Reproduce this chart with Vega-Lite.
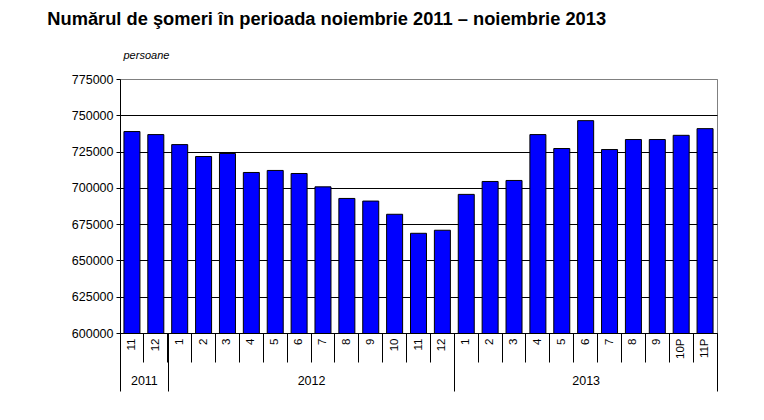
{
  "$schema": "https://vega.github.io/schema/vega-lite/v6.json",
  "autosize": {"type": "none"},
  "width": 597,
  "height": 254,
  "padding": {"left": 120, "top": 79, "right": 47, "bottom": 87},
  "background": "white",
  "title": {
    "text": "Numărul de şomeri în perioada noiembrie 2011 – noiembrie 2013",
    "anchor": "start",
    "dx": -24,
    "dy": -16,
    "fontSize": 18.3,
    "fontWeight": "bold",
    "font": "Liberation Sans",
    "color": "black"
  },
  "datasets": {
    "months": [
      {"key": "2011-11", "year": "2011", "v": 738800},
      {"key": "2011-12", "year": "2011", "v": 736700},
      {"key": "2012-1", "year": "2012", "v": 729800},
      {"key": "2012-2", "year": "2012", "v": 721600},
      {"key": "2012-3", "year": "2012", "v": 723700},
      {"key": "2012-4", "year": "2012", "v": 710600},
      {"key": "2012-5", "year": "2012", "v": 712000},
      {"key": "2012-6", "year": "2012", "v": 709900},
      {"key": "2012-7", "year": "2012", "v": 700700},
      {"key": "2012-8", "year": "2012", "v": 692700},
      {"key": "2012-9", "year": "2012", "v": 690900},
      {"key": "2012-10", "year": "2012", "v": 681800},
      {"key": "2012-11", "year": "2012", "v": 668700},
      {"key": "2012-12", "year": "2012", "v": 670800},
      {"key": "2013-1", "year": "2013", "v": 695500},
      {"key": "2013-2", "year": "2013", "v": 704400},
      {"key": "2013-3", "year": "2013", "v": 705100},
      {"key": "2013-4", "year": "2013", "v": 736700},
      {"key": "2013-5", "year": "2013", "v": 727100},
      {"key": "2013-6", "year": "2013", "v": 746300},
      {"key": "2013-7", "year": "2013", "v": 726400},
      {"key": "2013-8", "year": "2013", "v": 733300},
      {"key": "2013-9", "year": "2013", "v": 733300},
      {"key": "2013-10P", "year": "2013", "v": 736200},
      {"key": "2013-11P", "year": "2013", "v": 740800}
    ],
    "years": [
      {"year": "2011", "start": 0, "end": 2, "mid": 1},
      {"year": "2012", "start": 2, "end": 14, "mid": 8},
      {"year": "2013", "start": 14, "end": 25, "mid": 19.5}
    ]
  },
  "layer": [
    {
      "data": {"name": "months"},
      "mark": {"type": "bar", "fill": "#0000FF", "stroke": "black", "strokeWidth": 1, "width": {"band": 0.67}, "clip": true},
      "encoding": {
        "x": {
          "field": "key",
          "type": "ordinal",
          "sort": null,
          "scale": {"paddingInner": 0, "paddingOuter": 0},
          "axis": {
            "orient": "bottom",
            "title": null,
            "bandPosition": 0,
            "tickSize": 29,
            "tickColor": "black",
            "domainColor": "black",
            "labelAngle": -90,
            "labelAlign": "right",
            "labelBaseline": "middle",
            "labelPadding": -24,
            "labelFontSize": 11.5,
            "labelColor": "black",
            "labelFont": "Liberation Sans",
            "labelExpr": "split(datum.label, '-')[1]",
            "grid": false
          }
        },
        "y": {
          "field": "v",
          "type": "quantitative",
          "scale": {"domain": [600000, 775000], "nice": false, "zero": false},
          "axis": {
            "values": [600000, 625000, 650000, 675000, 700000, 725000, 750000, 775000],
            "format": "d",
            "title": "persoane",
            "titleAngle": 0,
            "titleX": 3,
            "titleY": -24,
            "titleAlign": "left",
            "titleBaseline": "middle",
            "titleFontStyle": "italic",
            "titleFontWeight": "normal",
            "titleFontSize": 11,
            "titleFont": "Liberation Sans",
            "titleColor": "black",
            "grid": true,
            "gridColor": {"condition": {"test": "datum.value == 775000", "value": "#808080"}, "value": "black"},
            "gridWidth": 1,
            "domainColor": "black",
            "tickColor": "black",
            "tickSize": 4,
            "labelPadding": 3,
            "labelFontSize": 12.5,
            "labelFont": "Liberation Sans",
            "labelColor": "black"
          }
        }
      }
    },
    {
      "data": {"name": "years"},
      "mark": {"type": "point", "opacity": 0},
      "encoding": {
        "x": {
          "field": "start",
          "type": "quantitative",
          "scale": {"domain": [0, 25], "nice": false, "zero": false},
          "axis": {
            "orient": "bottom",
            "title": null,
            "values": [0, 2, 14, 25],
            "labels": false,
            "domain": false,
            "grid": false,
            "tickSize": 58,
            "tickColor": "black"
          }
        }
      }
    },
    {
      "data": {"name": "years"},
      "mark": {"type": "point", "opacity": 0},
      "encoding": {
        "x": {
          "field": "mid",
          "type": "quantitative",
          "scale": {"domain": [0, 25], "nice": false, "zero": false},
          "axis": {
            "orient": "bottom",
            "title": null,
            "values": [1, 8, 19.5],
            "labelExpr": "datum.value < 2 ? '2011' : datum.value < 14 ? '2012' : '2013'",
            "ticks": false,
            "domain": false,
            "grid": false,
            "labelPadding": 41,
            "labelFontSize": 12.5,
            "labelFont": "Liberation Sans",
            "labelColor": "black"
          }
        }
      }
    }
  ],
  "resolve": {"scale": {"x": "independent"}},
  "config": {
    "font": "Liberation Sans",
    "view": {"stroke": "#808080", "strokeWidth": 1}
  }
}
